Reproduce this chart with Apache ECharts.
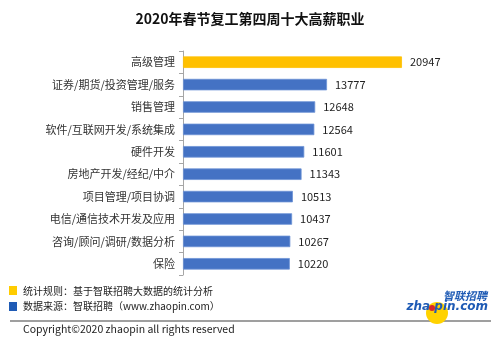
<!DOCTYPE html>
<html><head><meta charset="utf-8">
<script src="https://cdn.jsdelivr.net/npm/echarts@6/dist/echarts.min.js"></script>
<style>html,body{margin:0;padding:0;background:#fff}#c{width:500px;height:346px}</style>
</head><body><div id="c"></div>
<script>
const title = '2020年春节复工第四周十大高薪职业';
const categories = ['高级管理','证券/期货/投资管理/服务','销售管理','软件/互联网开发/系统集成','硬件开发','房地产开发/经纪/中介','项目管理/项目协调','电信/通信技术开发及应用','咨询/顾问/调研/数据分析','保险'];
const values = [20947,13777,12648,12564,11601,11343,10513,10437,10267,10220];
const highlightIndex = 0;
const notes = ['统计规则：基于智联招聘大数据的统计分析','数据来源：智联招聘（www.zhaopin.com）'];
const copyright = 'Copyright©2020 zhaopin all rights reserved';

const FONT = '"Noto Sans CJK SC","Microsoft YaHei",sans-serif';
const chart = echarts.init(document.getElementById('c'));
chart.setOption({
  animation:false,
  backgroundColor:'#fff',
  title:{text:title,left:'center',top:7,textStyle:{fontSize:14,fontWeight:'bold',color:'#111',fontFamily:FONT}},
  grid:{left:183,top:51,width:300,height:224,containLabel:false},
  xAxis:{type:'value',min:0,max:28700,show:false},
  yAxis:{type:'category',data:categories,inverse:true,
    axisLine:{lineStyle:{color:'#a6a6a6',width:1}},
    axisTick:{show:true,length:4,lineStyle:{color:'#a6a6a6'}},
    axisLabel:{fontSize:11,color:'#333',fontFamily:FONT,margin:8}},
  series:[{type:'bar',barWidth:11.5,
    data:values.map((v,i)=>({value:v,itemStyle:{color:i===highlightIndex?'#FFC000':'#4472C4',borderColor:i===highlightIndex?'#FFC000':'#6d93d6',borderWidth:0.8}})),
    label:{show:true,position:'right',distance:8,fontSize:11,color:'#222',fontFamily:FONT}
  }],
  graphic:[
    {type:'rect',shape:{x:9,y:286,width:8,height:9},style:{fill:'#FFCC00'}},
    {type:'rect',shape:{x:9,y:302,width:8,height:9},style:{fill:'#1F5BB5'}},
    {type:'text',x:23,y:291,style:{text:notes[0],font:'10px '+FONT,fill:'#222',textVerticalAlign:'middle'}},
    {type:'text',x:23,y:306,style:{text:notes[1],font:'10px '+FONT,fill:'#222',textVerticalAlign:'middle'}},
    {type:'line',shape:{x1:10,y1:321,x2:491,y2:321},style:{stroke:'#7f7f7f',lineWidth:1.5}},
    {type:'text',x:23,y:329,style:{text:copyright,font:'10.5px '+FONT,fill:'#222',textVerticalAlign:'middle'}},
    {type:'circle',shape:{cx:437,cy:313,r:11},style:{fill:'#FFD200'}},
    {type:'text',x:487,y:296,style:{text:'智联招聘',font:'italic bold 11px '+FONT,fill:'#1F5BB5',textAlign:'right',textVerticalAlign:'middle'}},
    {type:'text',x:488,y:307,style:{text:'zha pin.com',font:'italic bold 12px "DejaVu Sans",sans-serif',fill:'#1F5BB5',textAlign:'right',textVerticalAlign:'middle'}},
    {type:'circle',shape:{cx:432,cy:308,r:3},style:{fill:'#D9262A'}}
  ]
});
</script></body></html>
